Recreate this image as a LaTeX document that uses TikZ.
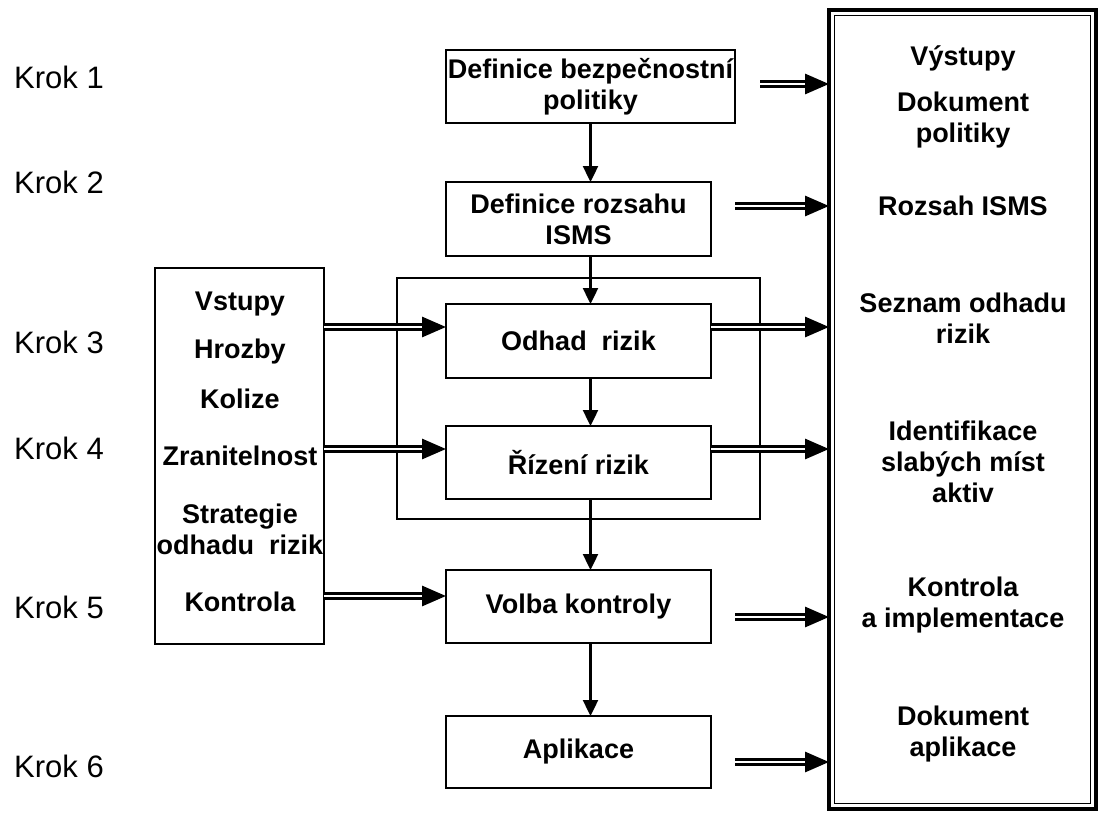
\documentclass[tikz,border=0pt]{standalone}
\usepackage{fontspec}
\setmainfont{Liberation Sans}
\usetikzlibrary{arrows.meta}
\begin{document}
\begin{tikzpicture}[x=1pt,y=-1pt,
  box/.style={draw, line width=2.2pt, inner sep=0pt, outer sep=0pt, anchor=north west,
    font=\bfseries\fontsize{27}{31}\selectfont, align=center},
  frm/.style={draw, line width=1.8pt, inner sep=0pt, outer sep=0pt, anchor=north west},
  lbl/.style={font=\bfseries\fontsize{27}{31}\selectfont, align=center, inner sep=0pt},
  krok/.style={font=\fontsize{31}{34}\selectfont, anchor=west, inner sep=0pt},
  varrow/.style={line width=2.4pt, -{Triangle[length=16pt,width=15pt]}},
  dbl/.style={line width=3pt, double, double distance=1.2pt, -{Triangle[length=24pt,width=20pt]}},
]
\useasboundingbox (0,0) rectangle (1098,812);

% step labels
\node[krok] (k1) at (14,77) {Krok 1};
\node[krok] (k2) at (14,182) {Krok 2};
\node[krok] (k3) at (14,342) {Krok 3};
\node[krok] (k4) at (14,448) {Krok 4};
\node[krok] (k5) at (14,607) {Krok 5};
\node[krok] (k6) at (14,766) {Krok 6};

% outputs box
\node[frm, line width=3.5pt, minimum width=267pt, minimum height=799pt] (out) at (829,10) {};
\draw[line width=1.5pt] ([shift={(5.5,5.5)}]out.north west) rectangle ([shift={(-5.5,-5.5)}]out.south east);

% inputs box
\node[frm, minimum width=169pt, minimum height=376pt] (inp) at (155,268) {};

% risk frame
\node[frm, minimum width=363pt, minimum height=241pt] (frame) at (397,278) {};

% process boxes
\node[box, minimum width=289pt, minimum height=73pt] (b1) at (446,50) {Definice bezpečnostní\\politiky};
\node[box, minimum width=265pt, minimum height=74pt] (b2) at (446,182) {Definice rozsahu\\ISMS};
\node[box, minimum width=265pt, minimum height=74pt] (odhad) at (446,304) {Odhad\ \ rizik};
\node[box, minimum width=265pt, minimum height=73pt] (rizeni) at (446,426) {Řízení rizik};
\node[box, minimum width=265pt, minimum height=73pt] (volba) at (446,570) {Volba kontroly};
\node[box, minimum width=265pt, minimum height=72pt] (apl) at (446,716) {Aplikace};

% input texts
\node[lbl] (i1) at (240,304) {Vstupy};
\node[lbl] (i2) at (240,352) {Hrozby};
\node[lbl] (i3) at (240,399) {Kolize};
\node[lbl] (i4) at (240,456) {Zranitelnost};
\node[lbl] (i5) at (240,529) {Strategie\\odhadu\ \ rizik};
\node[lbl] (i6) at (240,602) {Kontrola};

% output texts
\node[lbl] (o1) at (963,58) {Výstupy};
\node[lbl] (o2) at (963,120) {Dokument\\politiky};
\node[lbl] (o3) at (963,206) {Rozsah ISMS};
\node[lbl] (o4) at (963,318) {Seznam odhadu\\rizik};
\node[lbl] (o5) at (963,462) {Identifikace\\slabých míst\\aktiv};
\node[lbl] (o6) at (963,605) {Kontrola\\a implementace};
\node[lbl] (o7) at (963,734) {Dokument\\aplikace};

% vertical flow
\draw[varrow] (b1.south) -- (b1.south |- b2.north);
\draw[varrow] (b1.south |- b2.south) -- (b1.south |- odhad.north);
\draw[varrow] (b1.south |- odhad.south) -- (b1.south |- rizeni.north);
\draw[varrow] (b1.south |- rizeni.south) -- (b1.south |- volba.north);
\draw[varrow] (b1.south |- volba.south) -- (b1.south |- apl.north);

% input arrows
\coordinate (y3) at (0,327);
\coordinate (y4) at (0,449);
\coordinate (y5) at (0,596);
\draw[dbl] (inp.east |- y3) -- (odhad.west |- y3);
\draw[dbl] (inp.east |- y4) -- (rizeni.west |- y4);
\draw[dbl] (inp.east |- y5) -- (volba.west |- y5);

% output arrows
\coordinate (r1) at (760,84);
\coordinate (r2) at (735,206);
\coordinate (r5) at (735,617);
\coordinate (r6) at (735,762);
\draw[dbl] (r1) -- (r1 -| out.west);
\draw[dbl] (r2) -- (r2 -| out.west);
\draw[dbl] (odhad.east |- y3) -- (out.west |- y3);
\draw[dbl] (rizeni.east |- y4) -- (out.west |- y4);
\draw[dbl] (r5) -- (r5 -| out.west);
\draw[dbl] (r6) -- (r6 -| out.west);
\end{tikzpicture}
\end{document}
